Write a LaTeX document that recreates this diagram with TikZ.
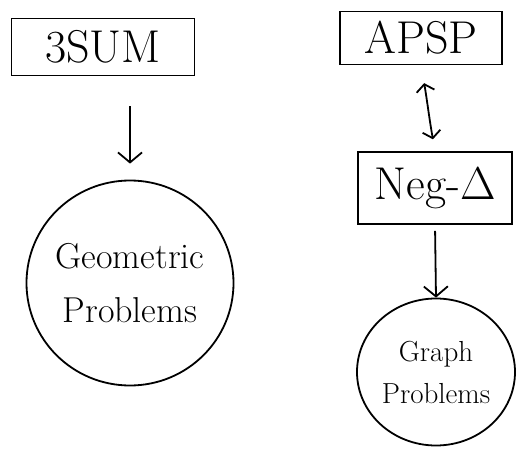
\documentclass[tikz,border=0pt]{standalone}
\usepackage{fix-cm}
\usepackage{fontspec}
\usetikzlibrary{shapes.geometric,arrows.meta}
\tikzset{
  probbox/.style={draw,line width=1.8pt,minimum width=#1,inner sep=2pt,font=\fontsize{46}{48}\selectfont},
  probblob/.style={draw,ellipse,line width=1.8pt,align=center,inner sep=0pt},
  reduce/.style={line width=1.8pt,-{Straight Barb[length=10pt,width=24pt]}}
}
\begin{document}
\begin{tikzpicture}[x=1pt,y=-1pt]
  \useasboundingbox (0,0) rectangle (525,450);
  % problems
  \node[probbox=183pt,minimum height=57pt] (3sum) at (103,47) {3SUM};
  \node[probbox=162pt,minimum height=53pt] (apsp) at (421,38) {APSP};
  \node[probbox=154pt,minimum height=72pt] (neg) at (435,188) {Neg-$\Delta$};
  \node[probblob,inner sep=-8pt,minimum width=207pt,minimum height=205pt,font=\fontsize{36}{54}\selectfont]
    (geo) at (130,283) {Geometric\\Problems};
  \node[probblob,minimum width=158pt,minimum height=147pt,font=\fontsize{29}{42}\selectfont]
    (graph) at (436,372) {Graph\\Problems};
  % reductions
  \draw[reduce,shorten <=30pt,shorten >=16pt] (3sum.south -| geo.north) -- (geo.north);
  \draw[reduce,{Straight Barb[length=7pt,width=18pt]}-{Straight Barb[length=7pt,width=18pt]},
    shorten <=18pt,shorten >=12pt] (apsp.south) to[out=-80,in=100] (neg.north);
  \draw[reduce,shorten <=6pt,shorten >=0pt] (neg.south) -- (graph.north);
\end{tikzpicture}
\end{document}
